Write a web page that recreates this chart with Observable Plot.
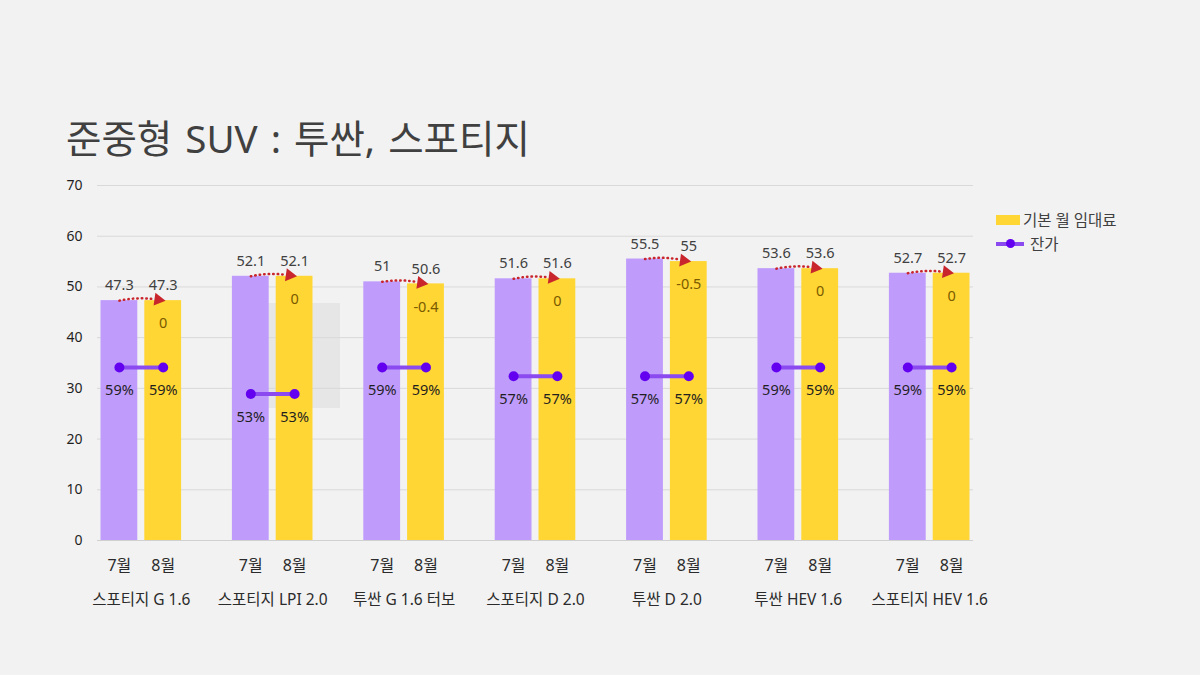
<!DOCTYPE html>
<html>
<head>
<meta charset="utf-8">
<script src="https://cdn.jsdelivr.net/npm/d3@7"></script>
<script src="https://cdn.jsdelivr.net/npm/@observablehq/plot@0.6"></script>
<style>
  html, body { margin: 0; padding: 0; background: #f2f2f2; }
  #wrap { position: relative; width: 1200px; height: 675px; overflow: hidden; background: #f2f2f2;
          font-family: "Noto Sans", "Noto Sans CJK KR", sans-serif; }
  #title { position: absolute; left: 66px; top: 108px; font-size: 38.5px; color: #404040; white-space: nowrap; word-spacing: 3px; }
  #chart { position: absolute; left: 0; top: 0; }
  .leg { position: absolute; left: 996px; font-size: 15.5px; color: #404040; display: flex; align-items: center; white-space: nowrap; }
  .sw { display: inline-block; width: 24px; height: 10px; background: #ffd633; margin-right: 3px; }
  .ln { position: relative; display: inline-block; width: 28px; height: 4px; background: #8a4af0; margin-right: 6px; }
  .ln::after { content: ""; position: absolute; left: 10px; top: -3px; width: 9px; height: 9px; border-radius: 50%; background: #6300f0; }
  #wmbox { position: absolute; left: 268px; top: 303px; width: 72px; height: 105px; background: #e6e6e6; }
</style>
</head>
<body>
<div id="wrap">
  <div id="wmbox"></div>
  <div id="chart"></div>
  <div id="title">준중형 SUV : 투싼, 스포티지</div>
  <div class="leg" style="top:208px;"><span class="sw"></span>기본 월 임대료</div>
  <div class="leg" style="top:232px;"><span class="ln"></span>잔가</div>
</div>
<script>
// ---- data ----
const groups = ["스포티지 G 1.6", "스포티지 LPI 2.0", "투싼 G 1.6 터보", "스포티지 D 2.0", "투싼 D 2.0", "투싼 HEV 1.6", "스포티지 HEV 1.6"];
const months = ["7월", "8월"];
const julyRent = [47.3, 52.1, 51, 51.6, 55.5, 53.6, 52.7];
const augustRent = [47.3, 52.1, 50.6, 51.6, 55, 53.6, 52.7];
const julyResidual = [59, 53, 59, 57, 57, 59, 59];
const augustResidual = [59, 53, 59, 57, 57, 59, 59];
const yTicks = [0, 10, 20, 30, 40, 50, 60, 70];
// secondary (hidden) axis for residual %: 20% .. 100% mapped onto 0 .. 70
const residualAxis = [20, 100];

// ---- derived tables ----
const yMax = yTicks[yTicks.length - 1];
const toPrimary = p => (p - residualAxis[0]) * yMax / (residualAxis[1] - residualAxis[0]);

const rows = [];
groups.forEach((g, i) => {
  rows.push({group: g, gi: i, month: months[0], pos: i * 3, rent: julyRent[i], residual: julyResidual[i]});
  rows.push({group: g, gi: i, month: months[1], pos: i * 3 + 1, rent: augustRent[i], residual: augustResidual[i]});
});
const grp = groups.map((g, i) => ({
  group: g, i, jul: julyRent[i], aug: augustRent[i],
  diff: String(Math.round((augustRent[i] - julyRent[i]) * 10) / 10)
}));

const HALF = 0.42;
const FONT = "'Noto Sans', 'Noto Sans CJK KR', sans-serif";
const chart = Plot.plot({
  width: 1200,
  height: 675,
  marginTop: 185,
  marginBottom: 135,
  marginLeft: 97,
  marginRight: 227,
  style: {background: "transparent", fontFamily: FONT, fontSize: "14px", color: "#262626"},
  x: {type: "linear", domain: [-0.5, groups.length * 3 - 1 - 0.5], axis: null},
  y: {domain: [0, yMax], axis: null},
  color: {domain: months, range: ["#bf9bfc", "#ffd633"]},
  marks: [
    Plot.gridY(yTicks.slice(1), {stroke: "#d9d9d9", strokeOpacity: 1}),
    Plot.axisY(yTicks, {tickSize: 0, tickPadding: 15, label: null, fill: "#1f1f1f", fontSize: 14, textAnchor: "end"}),
    Plot.rectY(rows, {x1: d => d.pos - HALF, x2: d => d.pos + HALF, y: "rent", fill: "month"}),
    Plot.ruleY([0], {stroke: "#d0d0d0"}),
    // value labels above bars
    Plot.text(rows, {x: "pos", y: "rent", text: d => String(d.rent), dy: -15, fill: "#404040", fontSize: 14.5}),
    // change labels inside August bars
    Plot.text(grp, {x: d => d.i * 3 + 1, y: "aug", text: "diff", dy: 23, fill: "#7a5a00", fontSize: 14.5}),
    // dotted red arrows
    Plot.arrow(grp, {x1: d => d.i * 3, y1: "jul", x2: d => d.i * 3 + 1, y2: "aug", bend: 12, headLength: 0, insetEnd: 9,
      stroke: "#c8262c", strokeWidth: 2.5, strokeDasharray: "0.5,4", strokeLinecap: "round"}),
    Plot.dot(grp, {x: d => d.i * 3 + 1, y: "aug", symbol: "triangle", rotate: 98, r: 4.8, dx: -5, dy: -1, fill: "#c8262c", stroke: null}),
    // residual value line
    Plot.line(rows, {x: "pos", y: d => toPrimary(d.residual), z: "group", stroke: "#8a4af0", strokeWidth: 4}),
    Plot.dot(rows, {x: "pos", y: d => toPrimary(d.residual), r: 5, fill: "#6300f0", stroke: null}),
    Plot.text(rows, {x: "pos", y: d => toPrimary(d.residual), text: d => d.residual + "%", dy: 23, fill: "#1f1f1f", fontSize: 14.5}),
    // x labels
    Plot.text(rows, {x: "pos", y: 0, text: "month", dy: 25, fill: "#2b2b2b", fontSize: 16}),
    Plot.text(grp, {x: d => d.i * 3 + 0.5, y: 0, text: "group", dy: 60, fill: "#2b2b2b", fontSize: 15.5})
  ]
});
document.getElementById("chart").appendChild(chart);
</script>
</body>
</html>
